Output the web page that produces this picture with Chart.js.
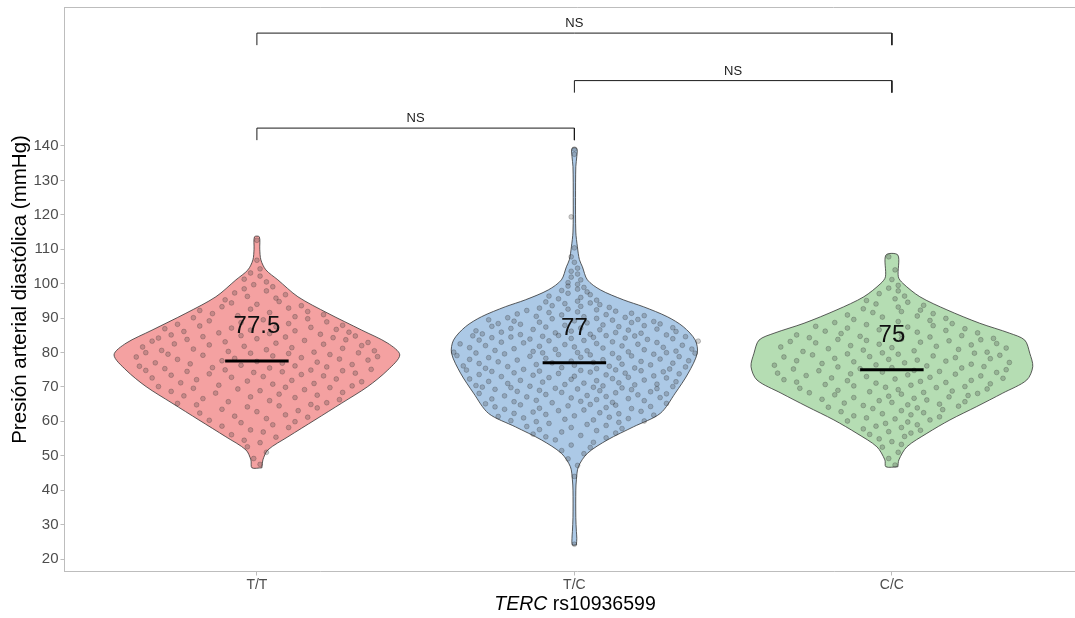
<!DOCTYPE html>
<html>
<head>
<meta charset="utf-8">
<script src="https://cdn.jsdelivr.net/npm/chart.js@4.4.1/dist/chart.umd.min.js"></script>
<style>
  html, body { margin: 0; padding: 0; background: #ffffff; overflow: hidden; }
  #wrap { width: 1075px; height: 618px; overflow: hidden; }
  #chart { display: block; }
</style>
</head>
<body>
<div id="wrap"><canvas id="chart" width="1090" height="618"></canvas></div>
<script>
// Genotype groups along the x axis
const genotypes = ['T/T', 'T/C', 'C/C'];
// Median diastolic pressure per genotype (mmHg)
const medians = [77.5, 77, 75];
// y axis tick values (mmHg)
const yTicks = [20, 30, 40, 50, 60, 70, 80, 90, 100, 110, 120, 130, 140];

// Kernel density outlines: [mmHg, relative density]
const ttDensity = [
  [46.5, .035], [48.8, .042], [51.7, .077], [55.5, .217], [60.4, .406], [65.3, .594],
  [70.1, .776], [74.9, .916], [79.3, 1.0], [82.7, .916], [86.5, .734], [91.4, .497],
  [96.2, .287], [101.1, .147], [104.0, .063], [106.9, .028], [110.0, .020], [113.6, .017]
];
const tcDensity = [
  [24.1, .014], [26.0, .017], [28.0, .014], [32.0, .010], [40.0, .010], [43.0, .014],
  [46.8, .028], [50.7, .091], [54.6, .231], [58.4, .413], [62.3, .601], [68.2, .706],
  [74.0, .797], [79.8, .860], [83.6, .846], [87.5, .762], [90.4, .650], [93.3, .483],
  [95.3, .343], [98.2, .182], [101.1, .091], [104.9, .056], [107.0, .035], [110.7, .021],
  [115.0, .010], [125.0, .008], [134.0, .010], [137.0, .017], [139.3, .017]
];
const ccDensity = [
  [46.8, .042], [48.8, .049], [52.6, .105], [56.5, .245], [60.4, .406], [64.3, .594],
  [68.2, .776], [72.0, .944], [75.9, .986], [79.8, .965], [83.6, .930], [85.6, .825],
  [88.5, .615], [92.4, .385], [96.2, .196], [100.1, .077], [102.0, .045], [108.3, .042]
];

// Individual measurements: [mmHg, horizontal jitter]
const ttPoints = [
  [47.5,0.01],[49.2,-0.01],[51.0,0.03],[52.6,-0.03],[53.8,0.01],[54.5,-0.04],
  [55.4,0.06],[56.1,-0.08],[56.9,0.02],[57.5,-0.02],[58.2,0.10],[58.6,-0.11],[59.0,0.05],[59.6,-0.05],[59.9,0.12],
  [60.3,-0.15],[60.8,0.03],[61.2,0.16],[61.5,-0.07],[61.9,0.09],[62.4,-0.18],[62.8,0.00],[63.1,0.13],[63.5,-0.11],[63.9,0.19],[64.2,-0.03],[64.5,0.07],[64.8,-0.19],[64.9,0.17],
  [65.2,-0.25],[65.4,0.22],[65.7,-0.09],[66.0,0.04],[66.3,0.26],[66.6,-0.17],[66.9,0.12],[67.1,-0.02],[67.4,-0.23],[67.6,0.19],[67.9,0.07],[68.2,-0.13],[68.4,0.27],[68.7,-0.27],[68.9,0.01],[69.2,0.15],[69.4,-0.06],[69.6,-0.20],[69.8,0.23],[69.9,0.09],
  [70.1,-0.31],[70.3,0.30],[70.5,-0.12],[70.8,0.05],[71.0,0.18],[71.2,-0.24],[71.5,0.33],[71.7,-0.03],[71.9,0.11],[72.1,-0.19],[72.3,0.25],[72.6,-0.33],[72.8,-0.08],[73.0,0.02],[73.2,0.21],[73.4,-0.27],[73.6,0.14],[73.8,-0.15],[74.0,0.31],[74.2,-0.01],[74.4,0.08],[74.5,-0.22],[74.7,0.27],[74.8,-0.35],[74.9,0.17],[74.95,-0.10],
  [75.1,0.36],[75.3,-0.29],[75.5,0.04],[75.6,-0.14],[75.8,0.22],[76.0,-0.37],[76.1,0.12],[76.3,-0.05],[76.5,0.30],[76.7,-0.21],[76.9,0.08],[77.0,-0.32],[77.2,0.19],[77.4,0.00],[77.6,-0.11],[77.8,0.35],[78.0,-0.25],[78.1,0.26],[78.3,-0.07],[78.5,0.14],[78.7,-0.38],[78.8,0.38],[79.0,0.05],[79.2,-0.17],[79.4,0.23],[79.5,-0.28],[79.7,0.10],[79.8,-0.02],[79.9,0.32],[79.95,-0.35],
  [80.1,0.18],[80.3,-0.09],[80.5,0.37],[80.6,-0.30],[80.8,0.03],[81.0,-0.20],[81.2,0.27],[81.4,0.11],[81.6,-0.36],[81.8,-0.04],[82.0,0.33],[82.2,-0.15],[82.4,0.21],[82.5,-0.26],[82.7,0.06],[82.9,0.35],[83.1,-0.10],[83.3,-0.33],[83.5,0.15],[83.7,0.28],[83.8,-0.22],[84.0,0.00],[84.2,-0.31],[84.3,0.24],[84.5,0.09],[84.6,-0.17],[84.8,0.31],[84.9,-0.05],
  [85.1,-0.27],[85.3,0.20],[85.5,0.04],[85.7,-0.12],[85.9,0.29],[86.1,-0.23],[86.3,0.12],[86.5,-0.02],[86.7,0.25],[86.9,-0.29],[87.1,-0.08],[87.3,0.17],[87.5,0.06],[87.7,-0.18],[87.9,0.27],[88.2,-0.25],[88.4,0.10],[88.7,-0.05],[88.9,0.22],[89.2,-0.15],[89.5,0.02],[89.8,0.16],
  [90.1,-0.20],[90.4,0.12],[90.7,-0.06],[91.0,0.21],[91.3,-0.14],[91.6,0.04],[91.9,0.16],[92.2,-0.18],[92.6,-0.02],[92.9,0.10],[93.3,-0.11],[93.6,0.14],[94.0,0.00],[94.4,-0.08],[94.8,0.07],
  [95.3,-0.10],[95.8,0.06],[96.3,-0.03],[96.8,0.09],[97.3,-0.07],[97.9,0.03],[98.5,-0.04],[99.1,0.05],[99.7,-0.01],
  [100.5,0.03],[101.3,-0.04],[102.2,0.01],[103.1,-0.02],[104.3,0.01],[106.8,0.00],[112.6,0.00]
];
const tcPoints = [
  [24.3,0.00],[44.0,0.00],[47.2,0.01],[49.1,-0.02],
  [50.6,0.03],[51.5,-0.04],[52.4,0.05],[53.1,-0.01],[53.9,0.06],[54.6,-0.06],
  [55.2,0.10],[55.5,-0.09],[55.9,0.02],[56.3,-0.13],[56.6,0.13],[56.9,-0.04],[57.3,0.07],[57.6,-0.11],[57.9,0.15],[58.2,-0.01],[58.5,-0.15],[58.8,0.10],[59.1,0.04],[59.4,-0.08],[59.7,0.14],[59.9,-0.12],
  [60.1,0.22],[60.2,-0.20],[60.4,0.06],[60.6,-0.03],[60.8,0.17],[61.0,-0.16],[61.2,0.11],[61.4,-0.24],[61.6,0.00],[61.8,0.25],[62.0,-0.09],[62.2,0.14],[62.3,-0.19],[62.5,0.08],[62.7,-0.13],[62.9,0.21],[63.1,-0.05],[63.3,0.03],[63.5,-0.22],[63.7,0.18],[63.8,-0.11],[64.0,0.10],[64.2,-0.25],[64.3,0.24],[64.5,-0.02],[64.7,0.13],[64.8,-0.17],[64.9,0.05],
  [65.1,-0.28],[65.2,0.29],[65.4,-0.07],[65.5,0.12],[65.7,-0.19],[65.8,0.02],[66.0,0.22],[66.1,-0.12],[66.3,0.07],[66.5,-0.26],[66.6,0.17],[66.8,-0.01],[66.9,0.27],[67.1,-0.15],[67.2,0.10],[67.4,-0.22],[67.5,0.04],[67.7,0.20],[67.8,-0.09],[68.0,0.29],[68.1,-0.30],[68.3,0.13],[68.4,-0.04],[68.6,0.24],[68.7,-0.18],[68.9,0.08],[69.0,-0.11],[69.2,0.18],[69.3,-0.25],[69.4,0.01],[69.5,0.26],[69.6,-0.06],[69.7,0.15],[69.8,-0.20],[69.9,0.06],[69.95,-0.29],
  [70.1,0.31],[70.2,-0.14],[70.3,0.09],[70.4,-0.31],[70.6,0.19],[70.7,-0.03],[70.8,0.26],[71.0,-0.21],[71.1,0.03],[71.2,0.14],[71.4,-0.10],[71.5,0.32],[71.6,-0.27],[71.8,0.07],[71.9,-0.17],[72.0,0.22],[72.2,-0.01],[72.3,-0.33],[72.4,0.12],[72.6,0.29],[72.7,-0.08],[72.8,0.17],[73.0,-0.23],[73.1,0.00],[73.2,0.25],[73.4,-0.13],[73.5,0.10],[73.6,-0.30],[73.8,0.33],[73.9,-0.05],[74.0,0.16],[74.1,-0.19],[74.3,0.05],[74.4,0.28],[74.5,-0.26],[74.6,-0.11],[74.7,0.21],[74.8,0.02],[74.9,-0.34],[74.95,0.13],
  [75.1,-0.16],[75.2,0.30],[75.3,0.07],[75.4,-0.28],[75.5,0.19],[75.6,-0.04],[75.8,0.35],[75.9,-0.21],[76.0,0.11],[76.1,-0.35],[76.3,0.00],[76.4,0.24],[76.5,-0.12],[76.6,0.15],[76.8,-0.30],[76.9,0.31],[77.0,-0.07],[77.1,0.06],[77.3,-0.24],[77.4,0.21],[77.5,-0.01],[77.6,0.36],[77.8,-0.18],[77.9,0.09],[78.0,-0.33],[78.1,0.27],[78.3,-0.09],[78.4,0.14],[78.5,-0.27],[78.6,0.02],[78.8,0.33],[78.9,-0.14],[79.0,0.18],[79.1,-0.37],[79.3,0.05],[79.4,-0.05],[79.5,0.25],[79.6,-0.22],[79.7,0.12],[79.8,0.38],[79.85,-0.31],[79.9,-0.10],[79.95,0.29],[79.98,0.01],
  [80.1,-0.38],[80.2,0.17],[80.3,-0.13],[80.4,0.32],[80.5,0.04],[80.6,-0.25],[80.8,0.22],[80.9,-0.06],[81.0,0.37],[81.1,-0.19],[81.3,0.09],[81.4,-0.33],[81.5,0.28],[81.6,0.00],[81.8,-0.11],[81.9,0.15],[82.0,-0.28],[82.1,0.34],[82.3,-0.03],[82.4,0.20],[82.5,-0.36],[82.6,0.07],[82.8,-0.16],[82.9,0.26],[83.0,-0.23],[83.1,0.12],[83.3,0.39],[83.4,-0.08],[83.5,0.03],[83.6,-0.30],[83.8,0.23],[83.9,-0.14],[84.0,0.31],[84.1,-0.01],[84.2,0.16],[84.3,-0.26],[84.4,0.06],[84.5,-0.20],[84.6,0.35],[84.7,-0.10],[84.8,0.19],[84.85,-0.32],[84.9,0.10],[84.95,-0.05],
  [85.1,0.29],[85.2,-0.17],[85.3,0.05],[85.4,-0.29],[85.6,0.21],[85.7,-0.06],[85.8,0.13],[85.9,-0.23],[86.1,0.32],[86.2,-0.01],[86.3,-0.31],[86.5,0.17],[86.6,0.08],[86.7,-0.13],[86.8,0.26],[87.0,-0.20],[87.1,0.02],[87.2,0.31],[87.4,-0.09],[87.5,0.14],[87.6,-0.26],[87.8,0.22],[87.9,-0.03],[88.0,0.09],[88.2,-0.17],[88.3,0.27],[88.4,-0.24],[88.6,0.04],[88.7,0.18],[88.8,-0.11],[89.0,0.25],[89.1,-0.19],[89.2,0.00],[89.4,0.12],[89.5,-0.27],[89.6,0.20],[89.8,-0.07],[89.9,0.07],
  [90.1,-0.21],[90.2,0.16],[90.4,0.03],[90.5,-0.12],[90.7,0.22],[90.9,-0.04],[91.0,0.10],[91.2,-0.18],[91.4,0.18],[91.6,-0.08],[91.8,0.01],[92.0,0.13],[92.2,-0.15],[92.4,0.07],[92.6,-0.02],[92.9,-0.11],[93.1,0.11],[93.4,0.02],[93.6,-0.07],[93.9,0.08],[94.2,-0.03],[94.4,0.05],[94.7,-0.09],[94.9,0.01],
  [95.2,0.07],[95.6,-0.05],[96.0,0.02],[96.4,-0.08],[96.8,0.05],[97.2,-0.02],[97.6,0.04],[98.0,-0.04],[98.4,0.01],[98.9,0.03],[99.3,-0.02],[99.8,0.01],
  [100.3,-0.02],[101.1,0.02],[101.9,-0.01],[102.8,0.01],[103.6,-0.01],[104.5,0.01],[106.2,0.00],[107.8,-0.01],[110.4,0.00],
  [119.4,-0.01],[137.6,0.00],[139.1,0.00]
];
const ccPoints = [
  [47.3,0.01],[49.2,-0.01],[51.0,0.02],
  [52.5,-0.03],[53.3,0.03],[54.1,0.00],[54.9,-0.04],[55.6,0.04],
  [56.2,-0.07],[56.6,0.06],[57.0,-0.01],[57.4,0.09],[57.8,-0.09],[58.2,0.03],[58.6,-0.05],[59.0,0.08],[59.4,-0.02],[59.8,0.05],
  [60.1,-0.14],[60.4,0.12],[60.7,0.01],[61.0,-0.08],[61.3,0.15],[61.6,-0.12],[61.9,0.06],[62.2,-0.03],[62.5,0.10],[62.8,-0.16],[63.1,0.03],[63.4,0.16],[63.7,-0.06],[63.9,0.08],
  [64.1,-0.20],[64.4,0.21],[64.6,-0.09],[64.8,0.05],[65.0,0.15],[65.3,-0.15],[65.5,0.00],[65.7,0.23],[66.0,-0.04],[66.2,0.11],[66.4,-0.22],[66.7,0.07],[66.9,-0.12],[67.1,0.18],[67.3,-0.01],[67.5,0.24],[67.7,-0.18],[67.9,0.03],
  [68.1,0.27],[68.3,-0.26],[68.4,0.10],[68.6,-0.07],[68.8,0.19],[69.0,-0.17],[69.2,0.02],[69.4,0.30],[69.6,-0.29],[69.8,0.14],[69.9,-0.02],[70.1,0.23],[70.3,-0.12],[70.5,0.06],[70.7,-0.21],[70.9,0.31],[71.1,-0.05],[71.3,0.17],[71.4,-0.30],[71.6,0.09],[71.8,-0.14],[71.9,0.25],
  [72.1,-0.34],[72.3,0.01],[72.5,0.35],[72.6,-0.19],[72.8,0.12],[73.0,-0.08],[73.2,0.28],[73.3,-0.27],[73.5,0.05],[73.7,0.20],[73.8,-0.13],[74.0,-0.36],[74.2,0.33],[74.3,-0.03],[74.5,0.15],[74.7,-0.23],[74.8,0.07],[75.0,0.36],[75.2,-0.31],[75.3,-0.10],[75.5,0.22],[75.6,0.00],[75.8,-0.17],[75.9,0.29],
  [76.1,0.11],[76.3,-0.37],[76.4,-0.05],[76.6,0.25],[76.8,-0.22],[77.0,0.04],[77.1,0.37],[77.3,-0.12],[77.5,0.17],[77.6,-0.30],[77.8,0.08],[78.0,-0.01],[78.2,0.31],[78.3,-0.18],[78.5,0.20],[78.7,-0.34],[78.8,-0.07],[79.0,0.13],[79.2,0.34],[79.3,-0.25],[79.5,0.02],[79.6,-0.14],[79.8,0.26],[79.9,-0.03],
  [80.1,0.30],[80.3,-0.28],[80.5,0.07],[80.7,-0.09],[80.9,0.21],[81.1,-0.20],[81.3,0.36],[81.4,0.00],[81.6,-0.35],[81.8,0.14],[82.0,-0.13],[82.2,0.25],[82.4,-0.04],[82.6,0.33],[82.8,-0.24],[83.0,0.09],[83.2,-0.32],[83.4,0.18],[83.5,-0.08],[83.7,0.28],[83.8,-0.17],[83.9,0.03],
  [84.1,0.32],[84.3,-0.26],[84.5,0.12],[84.7,-0.10],[84.9,0.22],[85.1,-0.30],[85.3,0.03],[85.5,-0.16],[85.7,0.27],[85.9,0.08],[86.2,-0.21],[86.4,0.17],[86.6,-0.04],[86.9,0.23],[87.1,-0.14],[87.4,0.05],[87.6,-0.24],[87.8,0.13],
  [88.1,-0.08],[88.4,0.19],[88.7,-0.18],[89.0,0.02],[89.3,0.12],[89.6,-0.12],[89.9,0.17],[90.3,-0.03],[90.6,0.08],[90.9,-0.14],[91.3,0.13],[91.6,-0.06],[91.9,0.03],
  [92.3,0.09],[92.7,-0.09],[93.2,0.02],[93.7,0.10],[94.1,-0.05],[94.6,0.05],[95.1,-0.08],[95.6,0.01],
  [96.4,0.04],[97.1,-0.04],[97.9,0.02],[98.7,-0.01],[99.5,0.02],
  [101.2,0.00],[104.0,0.01],[107.8,-0.01]
];

// Pairwise comparisons (group positions) and their test result labels
const comparisonPairs = [[1, 2], [2, 3], [1, 3]];
const comparisonLabels = ['NS', 'NS', 'NS'];

// ---- drawing ----
const FONT = "'Liberation Sans', Arial, Helvetica, sans-serif";
const fills = ['#F4A1A1', '#ACC9E6', '#B5DDB3'];
const densities = [ttDensity, tcDensity, ccDensity];
const pointSets = [ttPoints, tcPoints, ccPoints];
const VIOLIN_HALF = 0.45;   // half of the violin width at peak density, in group units
const MEDIAN_HALF = 0.1;
const bracketBase = 145.2, bracketStep = 13.8, bracketTip = 3.5;
const axisGray = '#BDBDBD';
const tickText = '#4D4D4D';

function violinOutline(pos, dens) {
  const right = dens.map(([v, d]) => ({x: pos + d * VIOLIN_HALF, y: v}));
  const left = dens.slice().reverse().map(([v, d]) => ({x: pos - d * VIOLIN_HALF, y: v}));
  return right.concat(left, [right[0]]);
}

const datasets = [];
// significance brackets
comparisonPairs.forEach(([a, b], i) => {
  const lvl = bracketBase + i * bracketStep;
  datasets.push({
    type: 'line',
    data: [{x: a, y: lvl - bracketTip}, {x: a, y: lvl}, {x: b, y: lvl}, {x: b, y: lvl - bracketTip}],
    borderColor: '#1a1a1a', borderWidth: 1, pointRadius: 0, tension: 0,
    borderJoinStyle: 'miter', fill: false, order: 0
  });
});
genotypes.forEach((g, i) => {
  const pos = i + 1;
  // median bar
  datasets.push({
    type: 'line',
    data: [{x: pos - MEDIAN_HALF, y: medians[i]}, {x: pos + MEDIAN_HALF, y: medians[i]}],
    borderColor: '#000000', borderWidth: 3, pointRadius: 0, fill: false, order: 1
  });
  // jittered observations
  datasets.push({
    type: 'scatter',
    data: pointSets[i].map(([v, j]) => ({x: pos + j, y: v})),
    pointRadius: 2.4, pointBorderWidth: 0.7,
    backgroundColor: 'rgba(60,60,60,0.25)', borderColor: 'rgba(40,40,40,0.35)',
    order: 2
  });
  // violin body
  datasets.push({
    type: 'line',
    data: violinOutline(pos, densities[i]),
    fill: 'shape', backgroundColor: fills[i],
    borderColor: '#333333', borderWidth: 0.8, pointRadius: 0, tension: 0.3,
    order: 3
  });
});

const annotate = {
  id: 'annotate',
  afterDraw(chart) {
    const {ctx, chartArea: ca, scales: {x, y}} = chart;
    ctx.save();
    // panel top border
    ctx.strokeStyle = axisGray; ctx.lineWidth = 1;
    ctx.beginPath(); ctx.moveTo(ca.left, ca.top); ctx.lineTo(ca.right, ca.top); ctx.stroke();

    // median labels
    ctx.fillStyle = '#111111';
    ctx.font = '24px ' + FONT;
    ctx.textAlign = 'center'; ctx.textBaseline = 'middle';
    medians.forEach((m, i) => {
      ctx.fillText(String(m), x.getPixelForValue(i + 1), y.getPixelForValue(m + 10));
    });

    // comparison labels
    ctx.font = '13px ' + FONT;
    ctx.fillStyle = '#1a1a1a';
    comparisonPairs.forEach(([a, b], i) => {
      const lvl = bracketBase + i * bracketStep;
      ctx.fillText(comparisonLabels[i], x.getPixelForValue((a + b) / 2), y.getPixelForValue(lvl) - 9.5);
    });

    // y axis title
    ctx.fillStyle = '#000000';
    ctx.font = '20.5px ' + FONT;
    ctx.translate(20, (ca.top + ca.bottom) / 2);
    ctx.rotate(-Math.PI / 2);
    ctx.fillText('Presión arterial diastólica (mmHg)', 0, 0);
    ctx.restore();

    // x axis title with italic gene name
    ctx.save();
    ctx.fillStyle = '#000000';
    ctx.textBaseline = 'middle'; ctx.textAlign = 'left';
    const gene = 'TERC', rest = ' rs10936599';
    ctx.font = 'italic 19.5px ' + FONT;
    const w1 = ctx.measureText(gene).width;
    ctx.font = '19.5px ' + FONT;
    const w2 = ctx.measureText(rest).width;
    const cx = 575;
    const x0 = cx - (w1 + w2) / 2, ty = 605;
    ctx.font = 'italic 19.5px ' + FONT;
    ctx.fillText(gene, x0, ty);
    ctx.font = '19.5px ' + FONT;
    ctx.fillText(rest, x0 + w1, ty);
    ctx.restore();
  }
};

new Chart(document.getElementById('chart'), {
  type: 'scatter',
  data: {datasets},
  plugins: [annotate],
  options: {
    responsive: false,
    animation: false,
    events: [],
    layout: {autoPadding: false, padding: {top: 7.5, left: 0, right: 0, bottom: 0}},
    plugins: {legend: {display: false}, tooltip: {enabled: false}, title: {display: false}},
    scales: {
      x: {
        type: 'linear', min: 0.394, max: 3.624,
        afterBuildTicks: s => { s.ticks = genotypes.map((_, i) => ({value: i + 1})); },
        afterFit: s => { s.height = 46.5; s.paddingLeft = 0; s.paddingRight = 0; },
        ticks: {
          callback: (v, i) => genotypes[i],
          color: tickText, font: {family: FONT, size: 14}, padding: 1,
          autoSkip: false, maxRotation: 0
        },
        grid: {drawOnChartArea: false, drawTicks: true, tickLength: 4, color: axisGray},
        border: {display: true, color: axisGray, width: 1}
      },
      y: {
        type: 'linear', min: 16.37, max: 180.24,
        afterBuildTicks: s => { s.ticks = yTicks.map(v => ({value: v})); },
        afterFit: s => { s.width = 64.5; s.paddingTop = 0; s.paddingBottom = 0; },
        ticks: {
          callback: v => String(v),
          color: tickText, font: {family: FONT, size: 15}, padding: 2
        },
        grid: {drawOnChartArea: false, drawTicks: true, tickLength: 4, color: axisGray},
        border: {display: true, color: axisGray, width: 1}
      }
    }
  }
});
</script>
</body>
</html>
